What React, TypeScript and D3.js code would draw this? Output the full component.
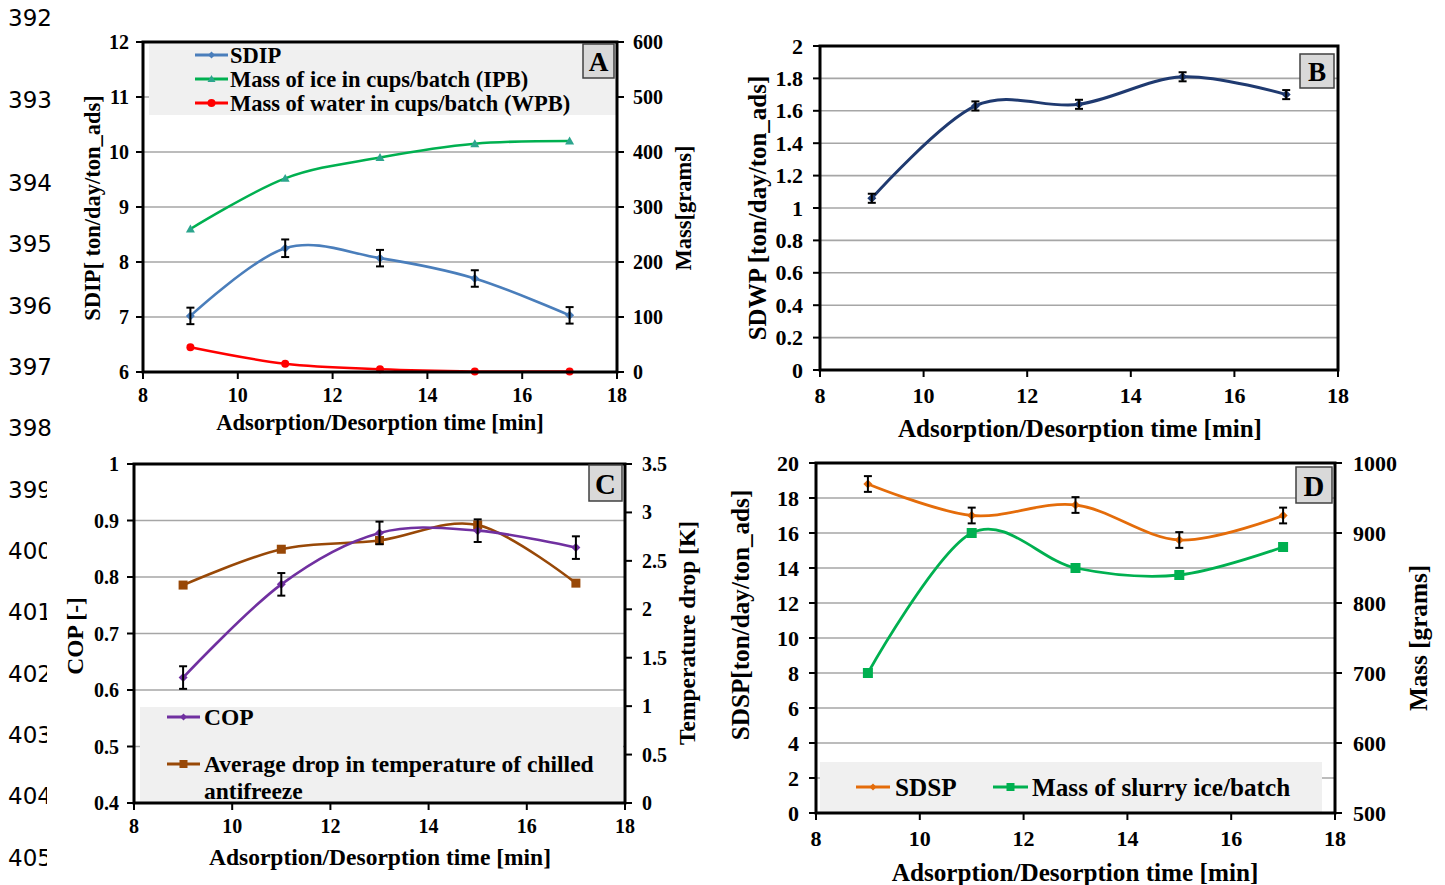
import React from 'react';
import * as d3 from 'd3';

// ---------- data ----------
const times = [9, 11, 13, 15, 17];
const xTickValues = [8, 10, 12, 14, 16, 18];

// Panel A
const sdip = [7.02, 8.25, 8.07, 7.7, 7.03];
const sdipErr = [0.15, 0.16, 0.15, 0.15, 0.15];
const ipb = [260, 352, 390, 415, 420];
const wpb = [45, 15, 5, 1, 1];
const aLeftTicks = [6, 7, 8, 9, 10, 11, 12];
const aRightTicks = [0, 100, 200, 300, 400, 500, 600];

// Panel B
const sdwp = [1.06, 1.63, 1.64, 1.81, 1.7];
const sdwpErr = [0.028, 0.028, 0.028, 0.028, 0.028];
const bLeftTicks = [0, 0.2, 0.4, 0.6, 0.8, 1, 1.2, 1.4, 1.6, 1.8, 2];

// Panel C
const cop = [0.622, 0.787, 0.878, 0.882, 0.852];
const copErr = [0.02, 0.02, 0.02, 0.02, 0.02];
const tempDrop = [2.25, 2.62, 2.71, 2.87, 2.27];
const cLeftTicks = [0.4, 0.5, 0.6, 0.7, 0.8, 0.9, 1];
const cRightTicks = [0, 0.5, 1, 1.5, 2, 2.5, 3, 3.5];

// Panel D
const sdsp = [18.8, 17.0, 17.6, 15.6, 17.0];
const sdspErr = [0.45, 0.45, 0.45, 0.45, 0.45];
const slurryMass = [700, 900, 850, 840, 880];
const dLeftTicks = [0, 2, 4, 6, 8, 10, 12, 14, 16, 18, 20];
const dRightTicks = [500, 600, 700, 800, 900, 1000];

// page line numbers
const lineNumbers = ['392', '393', '394', '395', '396', '397', '398', '399', '400', '401', '402', '403', '404', '405'];
const lineNumberY = [18, 100, 183, 244, 306, 367, 428, 490, 551, 612, 674, 735, 796, 858];

const SERIF = "'Liberation Serif','Times New Roman',serif";
const SANS = "'DejaVu Sans',Arial,sans-serif";

type Series = {
  values: number[];
  axis: 'left' | 'right';
  color: string;
  width: number;
  marker: 'diamond' | 'triangle' | 'circle' | 'square';
  markerColor?: string;
  markerSize: number;
  err?: number[];
};

function Marker({ type, cx, cy, color, s }: { type: string; cx: number; cy: number; color: string; s: number }) {
  if (type === 'diamond')
    return <polygon points={`${cx},${cy - s} ${cx + s},${cy} ${cx},${cy + s} ${cx - s},${cy}`} fill={color} />;
  if (type === 'triangle')
    return <polygon points={`${cx},${cy - s} ${cx + s},${cy + s * 0.75} ${cx - s},${cy + s * 0.75}`} fill={color} />;
  if (type === 'circle') return <circle cx={cx} cy={cy} r={s} fill={color} />;
  return <rect x={cx - s} y={cy - s} width={2 * s} height={2 * s} fill={color} />;
}

type PanelProps = {
  x0: number; x1: number; y0: number; y1: number;
  yDomain: [number, number]; yTicks: number[];
  y2Domain?: [number, number]; y2Ticks?: number[];
  gridTicks: number[];
  tickFont: number;
  leftLabelX: number; rightLabelX?: number; xLabelY: number;
  titleFont: number;
  xTitle: { x: number; y: number };
  yTitle: { text: string; x: number; y: number };
  y2Title?: { text: string; x: number; y: number };
  label: { text: string; x: number; y: number; w: number; h: number };
  legendBox: { x: number; y: number; w: number; h: number };
  legendItems: { lx1: number; lx2: number; y: number; tx: number; lines: string[]; lineGap?: number; color: string; marker: string; markerSize: number; markerColor?: string; font: number }[];
  series: Series[];
};

function Panel(p: PanelProps) {
  const x = d3.scaleLinear().domain([8, 18]).range([p.x0, p.x1]);
  const y = d3.scaleLinear().domain(p.yDomain).range([p.y1, p.y0]);
  const y2 = p.y2Domain ? d3.scaleLinear().domain(p.y2Domain).range([p.y1, p.y0]) : y;
  return (
    <g>
      {p.gridTicks.map((t) => (
        <line key={'g' + t} x1={p.x0} x2={p.x1} y1={y(t)} y2={y(t)} stroke="#a6a6a6" strokeWidth={1.6} />
      ))}
      {p.legendBox.w > 0 && (
        <rect x={p.legendBox.x} y={p.legendBox.y} width={p.legendBox.w} height={p.legendBox.h} fill="#f0f0f0" />
      )}
      {p.legendItems.map((it, i) => (
        <g key={'li' + i}>
          <line x1={it.lx1} x2={it.lx2} y1={it.y} y2={it.y} stroke={it.color} strokeWidth={2.8} />
          <Marker type={it.marker} cx={(it.lx1 + it.lx2) / 2} cy={it.y} color={it.markerColor || it.color} s={it.markerSize} />
          <text x={it.tx} y={it.y} fontFamily={SERIF} fontWeight="bold" fontSize={it.font} dominantBaseline="central" fill="#000">
            {it.lines.map((ln, j) => (
              <tspan key={j} x={it.tx} dy={j === 0 ? 0 : it.lineGap}>{ln}</tspan>
            ))}
          </text>
        </g>
      ))}
      {p.series.map((s, si) => {
        const sc = s.axis === 'left' ? y : y2;
        const pts: [number, number][] = times.map((t, i) => [x(t), sc(s.values[i])]);
        const path = d3.line().curve(d3.curveCatmullRom.alpha(0))(pts) || '';
        return (
          <g key={'s' + si}>
            <path d={path} fill="none" stroke={s.color} strokeWidth={s.width} />
            {pts.map(([px, py], i) => (
              <Marker key={i} type={s.marker} cx={px} cy={py} color={s.markerColor || s.color} s={s.markerSize} />
            ))}
            {s.err &&
              times.map((t, i) => {
                const top = sc(s.values[i] + s.err![i]);
                const bot = sc(s.values[i] - s.err![i]);
                const cx = x(t);
                return (
                  <g key={'e' + i} stroke="#000" strokeWidth={2}>
                    <line x1={cx} x2={cx} y1={top} y2={bot} />
                    <line x1={cx - 4} x2={cx + 4} y1={top} y2={top} />
                    <line x1={cx - 4} x2={cx + 4} y1={bot} y2={bot} />
                  </g>
                );
              })}
          </g>
        );
      })}
      <rect x={p.x0} y={p.y0} width={p.x1 - p.x0} height={p.y1 - p.y0} fill="none" stroke="#000" strokeWidth={3} />
      {p.yTicks.map((t) => (
        <g key={'yl' + t}>
          <line x1={p.x0 - 7} x2={p.x0} y1={y(t)} y2={y(t)} stroke="#000" strokeWidth={2} />
          <text x={p.leftLabelX} y={y(t)} textAnchor="end" dominantBaseline="central" fontFamily={SERIF} fontWeight="bold" fontSize={p.tickFont}>
            {String(t)}
          </text>
        </g>
      ))}
      {p.y2Ticks &&
        p.y2Ticks.map((t) => (
          <g key={'yr' + t}>
            <line x1={p.x1} x2={p.x1 + 7} y1={y2(t)} y2={y2(t)} stroke="#000" strokeWidth={2} />
            <text x={p.rightLabelX} y={y2(t)} textAnchor="start" dominantBaseline="central" fontFamily={SERIF} fontWeight="bold" fontSize={p.tickFont}>
              {String(t)}
            </text>
          </g>
        ))}
      {xTickValues.map((t) => (
        <g key={'x' + t}>
          <line x1={x(t)} x2={x(t)} y1={p.y1} y2={p.y1 + 7} stroke="#000" strokeWidth={2} />
          <text x={x(t)} y={p.xLabelY} textAnchor="middle" dominantBaseline="central" fontFamily={SERIF} fontWeight="bold" fontSize={p.tickFont}>
            {t}
          </text>
        </g>
      ))}
      <text x={p.xTitle.x} y={p.xTitle.y} textAnchor="middle" dominantBaseline="central" fontFamily={SERIF} fontWeight="bold" fontSize={p.titleFont}>
        Adsorption/Desorption time [min]
      </text>
      <text transform={`translate(${p.yTitle.x},${p.yTitle.y}) rotate(-90)`} textAnchor="middle" dominantBaseline="central" fontFamily={SERIF} fontWeight="bold" fontSize={p.titleFont}>
        {p.yTitle.text}
      </text>
      {p.y2Title && (
        <text transform={`translate(${p.y2Title.x},${p.y2Title.y}) rotate(-90)`} textAnchor="middle" dominantBaseline="central" fontFamily={SERIF} fontWeight="bold" fontSize={p.titleFont}>
          {p.y2Title.text}
        </text>
      )}
      <rect x={p.label.x} y={p.label.y} width={p.label.w} height={p.label.h} fill="#d9d9d9" stroke="#404040" strokeWidth={1.5} />
      <text x={p.label.x + p.label.w / 2} y={p.label.y + p.label.h / 2 + 1} textAnchor="middle" dominantBaseline="central" fontFamily={SERIF} fontWeight="bold" fontSize={p.label.h * 0.8}>
        {p.label.text}
      </text>
    </g>
  );
}

export default function App() {
  return (
    <svg width={1445} height={885} style={{ position: 'absolute', left: 0, top: 0, background: '#fff' }}>
      <rect x={0} y={0} width={1445} height={885} fill="#fff" />
      {lineNumbers.map((n, i) => (
        <text key={n} x={8} y={lineNumberY[i]} dominantBaseline="central" fontFamily={SANS} fontSize={23} fill="#000">
          {n}
        </text>
      ))}
      <rect x={47} y={445} width={650} height={440} fill="#fff" />

      {/* Panel A */}
      <Panel
        x0={143} x1={617} y0={42} y1={372}
        yDomain={[6, 12]} yTicks={aLeftTicks}
        y2Domain={[0, 600]} y2Ticks={aRightTicks}
        gridTicks={[7, 8, 9, 10, 11]}
        tickFont={20}
        leftLabelX={129} rightLabelX={633} xLabelY={395}
        titleFont={22.5}
        xTitle={{ x: 380, y: 422 }}
        yTitle={{ text: 'SDIP[ ton/day/ton_ads]', x: 92, y: 208 }}
        y2Title={{ text: 'Mass[grams]', x: 683, y: 208 }}
        label={{ text: 'A', x: 583, y: 44, w: 31, h: 34 }}
        legendBox={{ x: 149, y: 44, w: 468, h: 71 }}
        legendItems={[
          { lx1: 195, lx2: 228, y: 55, tx: 230, lines: ['SDIP'], color: '#4a7ebb', marker: 'diamond', markerSize: 3.5, font: 22.5 },
          { lx1: 195, lx2: 228, y: 79, tx: 230, lines: ['Mass of ice in cups/batch (IPB)'], color: '#00b050', marker: 'triangle', markerColor: '#2ca58d', markerSize: 4, font: 22.5 },
          { lx1: 195, lx2: 228, y: 103, tx: 230, lines: ['Mass of water in cups/batch (WPB)'], color: '#ff0000', marker: 'circle', markerSize: 4, font: 22.5 },
        ]}
        series={[
          { values: ipb, axis: 'right', color: '#00b050', width: 2.6, marker: 'triangle', markerColor: '#2ca58d', markerSize: 4.5 },
          { values: wpb, axis: 'right', color: '#ff0000', width: 2.6, marker: 'circle', markerSize: 4 },
          { values: sdip, axis: 'left', color: '#4a7ebb', width: 2.6, marker: 'diamond', markerSize: 4.5, err: sdipErr },
        ]}
      />

      {/* Panel B */}
      <Panel
        x0={820} x1={1338} y0={46} y1={370}
        yDomain={[0, 2]} yTicks={bLeftTicks}
        gridTicks={[0.2, 0.4, 0.6, 0.8, 1, 1.2, 1.4, 1.6, 1.8]}
        tickFont={22}
        leftLabelX={803} xLabelY={395}
        titleFont={25}
        xTitle={{ x: 1080, y: 428 }}
        yTitle={{ text: 'SDWP [ton/day/ton_ads]', x: 757, y: 208 }}
        label={{ text: 'B', x: 1300, y: 54, w: 34, h: 34 }}
        legendBox={{ x: 0, y: 0, w: 0, h: 0 }}
        legendItems={[]}
        series={[
          { values: sdwp, axis: 'left', color: '#1f3a70', width: 3, marker: 'diamond', markerSize: 4.5, err: sdwpErr },
        ]}
      />

      {/* Panel C */}
      <Panel
        x0={134} x1={625} y0={464} y1={803}
        yDomain={[0.4, 1]} yTicks={cLeftTicks}
        y2Domain={[0, 3.5]} y2Ticks={cRightTicks}
        gridTicks={[0.5, 0.6, 0.7, 0.8, 0.9]}
        tickFont={20}
        leftLabelX={119} rightLabelX={642} xLabelY={826}
        titleFont={23.5}
        xTitle={{ x: 380, y: 857 }}
        yTitle={{ text: 'COP [-]', x: 75, y: 636 }}
        y2Title={{ text: 'Temperature drop [K]', x: 687, y: 633 }}
        label={{ text: 'C', x: 589, y: 465, w: 33, h: 36 }}
        legendBox={{ x: 140, y: 707, w: 483, h: 96 }}
        legendItems={[
          { lx1: 167, lx2: 200, y: 717, tx: 204, lines: ['COP'], color: '#7030a0', marker: 'diamond', markerSize: 3.5, font: 23.5 },
          { lx1: 167, lx2: 200, y: 764, tx: 204, lines: ['Average drop in temperature of chilled', 'antifreeze'], lineGap: 27, color: '#984807', marker: 'square', markerSize: 4, font: 23.5 },
        ]}
        series={[
          { values: tempDrop, axis: 'right', color: '#984807', width: 2.6, marker: 'square', markerSize: 4.5 },
          { values: cop, axis: 'left', color: '#7030a0', width: 2.6, marker: 'diamond', markerSize: 4.5, err: copErr },
        ]}
      />

      {/* Panel D */}
      <Panel
        x0={816} x1={1335} y0={463} y1={813}
        yDomain={[0, 20]} yTicks={dLeftTicks}
        y2Domain={[500, 1000]} y2Ticks={dRightTicks}
        gridTicks={[2, 4, 6, 8, 10, 12, 14, 16, 18]}
        tickFont={22}
        leftLabelX={799} rightLabelX={1353} xLabelY={838}
        titleFont={25.2}
        xTitle={{ x: 1075, y: 872 }}
        yTitle={{ text: 'SDSP[ton/day/ton_ads]', x: 740, y: 615 }}
        y2Title={{ text: 'Mass [grams]', x: 1418, y: 638 }}
        label={{ text: 'D', x: 1296, y: 467, w: 36, h: 36 }}
        legendBox={{ x: 820, y: 762, w: 502, h: 51 }}
        legendItems={[
          { lx1: 856, lx2: 890, y: 787, tx: 895, lines: ['SDSP'], color: '#e46c0a', marker: 'diamond', markerSize: 3.5, font: 25.2 },
          { lx1: 993, lx2: 1028, y: 787, tx: 1032, lines: ['Mass of slurry ice/batch'], color: '#00b050', marker: 'square', markerSize: 4, font: 25.2 },
        ]}
        series={[
          { values: slurryMass, axis: 'right', color: '#00b050', width: 2.8, marker: 'square', markerSize: 5 },
          { values: sdsp, axis: 'left', color: '#e46c0a', width: 2.8, marker: 'diamond', markerSize: 4.5, err: sdspErr },
        ]}
      />
    </svg>
  );
}
